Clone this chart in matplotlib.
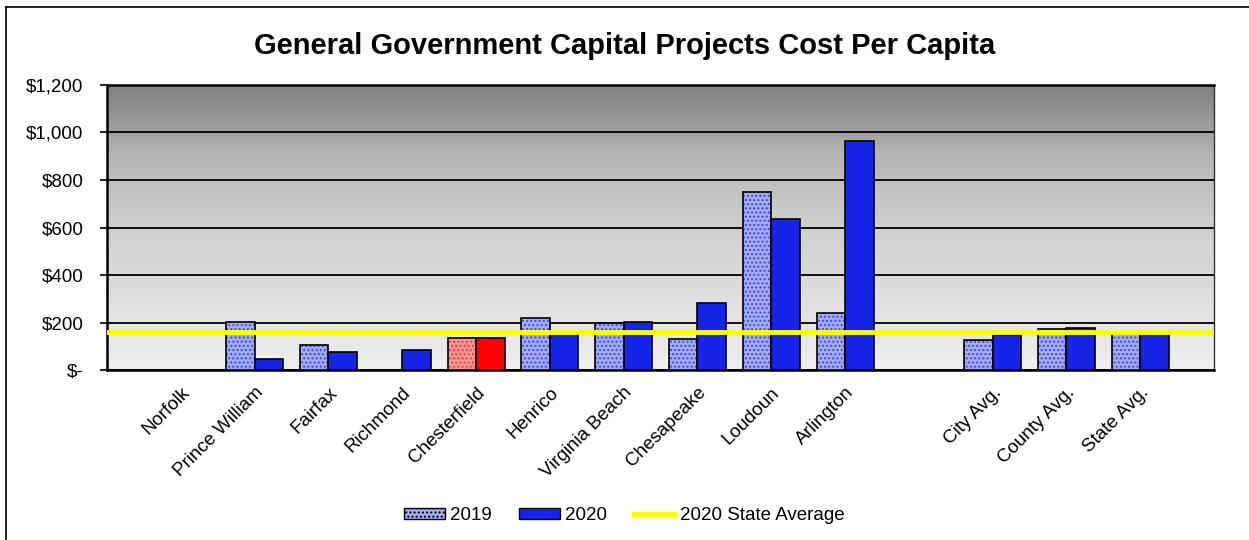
from matplotlib import pyplot as plt
from matplotlib.colors import LinearSegmentedColormap
from matplotlib.patches import Patch
from matplotlib.lines import Line2D
import numpy as np

plt.rcParams['font.family'] = ['Liberation Sans', 'DejaVu Sans']

# data
categories = ['Norfolk', 'Prince William', 'Fairfax', 'Richmond', 'Chesterfield',
              'Henrico', 'Virginia Beach', 'Chesapeake', 'Loudoun', 'Arlington',
              '', 'City Avg.', 'County Avg.', 'State Avg.']
v2019 = [0, 203, 105, 0, 133, 218, 196, 129, 751, 241, 0, 126, 172, 155]
v2020 = [0, 46, 77, 84, 136, 155, 203, 281, 636, 964, 0, 147, 178, 161]
state_avg_2020 = 161
highlight = 'Chesterfield'
yticks = [0, 200, 400, 600, 800, 1000, 1200]
ytick_labels = ['$-', '$200', '$400', '$600', '$800', '$1,000', '$1,200']

fig = plt.figure(figsize=(12.49, 5.4), dpi=100)
ax = fig.add_axes([0.0857, 0.3148, 0.8863, 0.5278])

# gradient background
bg = LinearSegmentedColormap.from_list('bg', [
    (0.0, '#eeeeee'), (0.17, '#e4e4e4'), (0.33, '#dadada'), (0.5, '#cfcfcf'),
    (0.67, '#bebebe'), (0.76, '#b4b4b4'), (0.84, '#a0a0a0'), (1.0, '#7f7f7f')])
grad = np.linspace(0, 1, 300).reshape(-1, 1)
ax.imshow(grad, cmap=bg, aspect='auto', origin='lower',
          extent=[0, 15, 0, 1200], zorder=0)

x = np.arange(1, len(categories) + 1)
w = 0.386
blue = '#1524e6'
for i, c in enumerate(categories):
    if c == highlight:
        f19, h19, f20 = '#ff9a9a', '#ff3030', '#ff0000'
    else:
        f19, h19, f20 = '#a4acf6', '#3a48ee', blue
    if v2019[i] > 0:
        ax.bar(x[i] - w / 2, v2019[i], w, color=f19, hatch='....',
               edgecolor=h19, linewidth=0, zorder=3)
        ax.bar(x[i] - w / 2, v2019[i], w, color='none', edgecolor='black',
               linewidth=1.2, zorder=4)
    if v2020[i] > 0:
        ax.bar(x[i] + w / 2, v2020[i], w, color=f20, edgecolor='black',
               linewidth=1.2, zorder=4)

ax.axhline(state_avg_2020, color='#ffff00', linewidth=3.5, zorder=5)

ax.set_xlim(0, 15)
ax.set_ylim(0, 1200)
ax.set_yticks(yticks)
ax.set_yticklabels(ytick_labels, fontsize=13.5)
ax.yaxis.grid(True, color='black', linewidth=1.3, zorder=1)
ax.set_axisbelow(True)
ax.tick_params(axis='y', length=5, width=1.2, pad=12)
ax.set_xticks(x)
ax.set_xticklabels(categories, rotation=45, ha='right', rotation_mode='anchor',
                   fontsize=13.5)
ax.tick_params(axis='x', length=0, pad=10)
for s in ['left', 'bottom', 'top']:
    ax.spines[s].set_linewidth(1.8)
ax.spines['right'].set_linewidth(1.0)
ax.spines['right'].set_color('#333333')

fig.text(0.5, 0.915, 'General Government Capital Projects Cost Per Capita',
         ha='center', va='center', fontsize=21, fontweight='bold')

# outer chart frame (only left and top edges are visible)
fx, fy = 6 / 1249, 1 - 7 / 540
fig.add_artist(Line2D([fx, fx], [0, fy], transform=fig.transFigure,
                      color='black', linewidth=1.2))
fig.add_artist(Line2D([fx, 1], [fy, fy], transform=fig.transFigure,
                      color='black', linewidth=1.2))

handles = [Patch(facecolor='#a4acf6', edgecolor='black', hatch='....'),
           Patch(facecolor=blue, edgecolor='black'),
           Line2D([0], [0], color='#ffff00', linewidth=3.5)]
fig.legend(handles, ['2019', '2020', '2020 State Average'], loc='center',
           bbox_to_anchor=(0.5, 0.045), ncol=3, frameon=False, fontsize=13.5,
           handlelength=2.2, handleheight=0.55, handletextpad=0.25,
           columnspacing=1.45)

plt.savefig('out.png', dpi=100)
